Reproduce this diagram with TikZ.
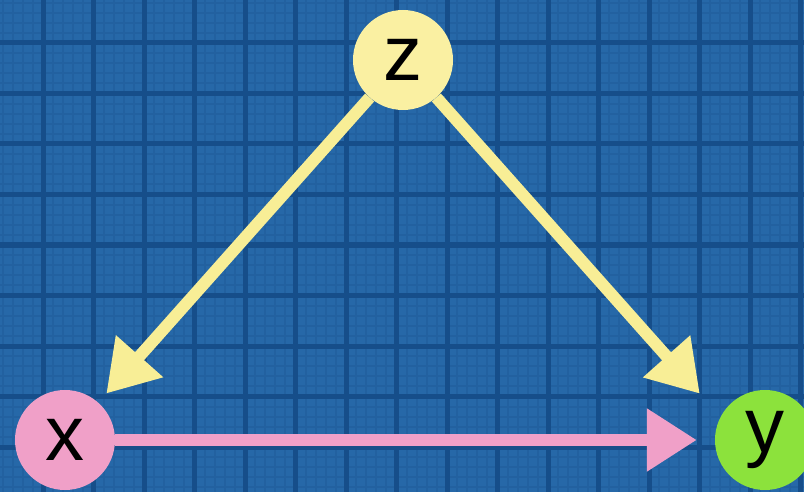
\documentclass[tikz,border=0pt]{standalone}
\usepackage{fontspec}
\setmainfont{Liberation Sans}
\usetikzlibrary{arrows.meta}
\definecolor{bgblue}{RGB}{38,104,168}
\definecolor{majorgrid}{RGB}{22,78,138}
\definecolor{minorgrid}{RGB}{34,97,160}
\definecolor{zfill}{RGB}{250,240,162}
\definecolor{yellowarrow}{RGB}{248,238,150}
\definecolor{pinkfill}{RGB}{240,160,200}
\definecolor{greenfill}{RGB}{140,226,60}
\tikzset{
  varnode/.style={circle, minimum size=100pt, inner sep=0pt, font=\fontsize{78}{78}\selectfont, text=black},
  majorline/.style={majorgrid, line width=5pt},
  minorline/.style={minorgrid, line width=2pt},
  bigarrow/.style={line width=12pt, -{Triangle[length=50pt,width=60pt]}},
}
\begin{document}
\begin{tikzpicture}[x=1pt,y=-1pt]
\useasboundingbox (0,0) rectangle (804,492);
\clip (0,0) rectangle (804,492);
\fill[bgblue] (0,0) rectangle (804,492);
\foreach \i in {0,...,80} {
  \draw[minorline] ({-7.5+10.1*\i},0) -- ({-7.5+10.1*\i},492);
}
\foreach \i in {0,...,50} {
  \draw[minorline] (0,{-7.5+10.1*\i}) -- (804,{-7.5+10.1*\i});
}
\foreach \i in {0,...,16} {
  \draw[majorline] ({-7.5+50.5*\i},0) -- ({-7.5+50.5*\i},492);
}
\foreach \i in {0,...,10} {
  \draw[majorline] (0,{-7.5+50.5*\i}) -- (804,{-7.5+50.5*\i});
}
\node[varnode, fill=zfill] (z) at (403,60) {z};
\node[varnode, fill=pinkfill] (x) at (65,440) {x};
\node[varnode, fill=greenfill] (y) at (765,440) {y};
\coordinate (yaim) at (741,440);
\draw[bigarrow, yellowarrow, shorten >=12pt] (z) -- (x);
\draw[bigarrow, yellowarrow, shorten >=62pt] (z) -- (yaim);
\draw[bigarrow, pinkfill, shorten >=18pt] (x) -- (y);
\end{tikzpicture}
\end{document}
